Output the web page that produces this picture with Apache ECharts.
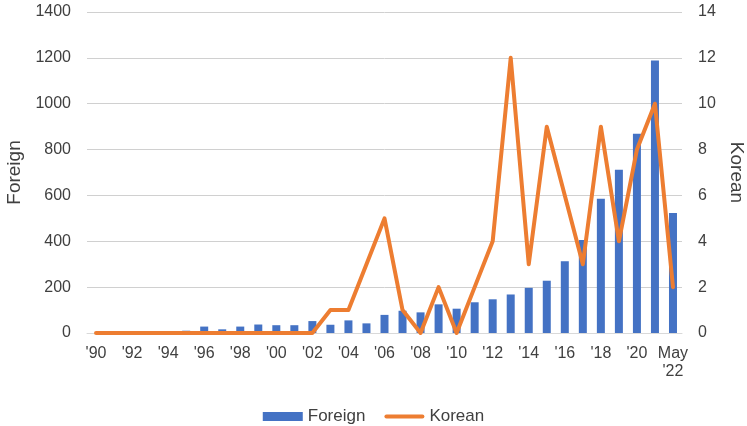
<!DOCTYPE html>
<html>
<head>
<meta charset="utf-8">
<script src="https://cdn.jsdelivr.net/npm/echarts@6/dist/echarts.min.js"></script>
<style>html,body{margin:0;padding:0;background:#fff}#c{width:747px;height:426px}</style>
</head>
<body>
<div id="c"></div>
<script>
const categories = ["'90","'91","'92","'93","'94","'95","'96","'97","'98","'99","'00","'01","'02","'03","'04","'05","'06","'07","'08","'09","'10","'11","'12","'13","'14","'15","'16","'17","'18","'19","'20","'21","May\n'22"];
const foreign = [0,0,0,0,0,10,28,16,28,37,34,34,52,36,55,42,79,97,90,125,106,134,147,168,197,228,313,406,585,712,869,1188,523];
const korean = [0,0,0,0,0,0,0,0,0,0,0,0,0,1,1,3,5,1,0,2,0,2,4,12,3,9,6,3,9,4,8,10,2];
const leftTicks = {min:0, max:1400, interval:200};
const rightTicks = {min:0, max:14, interval:2};

const font = 'Liberation Sans, Arial, sans-serif';
const chart = echarts.init(document.getElementById('c'));
chart.setOption({
  animation:false,
  textStyle:{fontFamily:font},
  grid:{left:87,right:65,top:12,bottom:93, containLabel:false, outerBoundsMode:'none'},
  legend:{
    top:403, left:'center', itemWidth:40, itemHeight:9, itemGap:19,
    textStyle:{fontSize:17, color:'#404040', fontFamily:font},
    data:[{name:'Foreign', icon:'rect'},
          {name:'Korean', icon:'path://M2,0 L38,0 A2,2 0 0 1 38,4 L2,4 A2,2 0 0 1 2,0 Z'}]
  },
  xAxis:{
    type:'category', data:categories,
    axisTick:{show:false},
    axisLine:{lineStyle:{color:'#d9d9d9', width:1}},
    axisLabel:{interval:1, fontSize:16, color:'#404040', margin:12, lineHeight:18, fontFamily:font}
  },
  yAxis:[
    {type:'value', min:leftTicks.min, max:leftTicks.max, interval:leftTicks.interval,
     name:'Foreign', nameLocation:'middle', nameGap:58,
     nameTextStyle:{fontSize:19, color:'#404040', fontFamily:font},
     axisLabel:{fontSize:16, color:'#404040', margin:16, fontFamily:font, formatter:function(v){return String(v);}},
     splitLine:{lineStyle:{color:'#d0d0d0', width:1}},
     axisLine:{show:false}, axisTick:{show:false}},
    {type:'value', min:rightTicks.min, max:rightTicks.max, interval:rightTicks.interval,
     name:'Korean', nameLocation:'middle', nameGap:43, nameRotate:-90,
     nameTextStyle:{fontSize:19, color:'#404040', fontFamily:font},
     axisLabel:{fontSize:16, color:'#404040', margin:16, fontFamily:font, formatter:function(v){return String(v);}},
     splitLine:{show:false},
     axisLine:{show:false}, axisTick:{show:false}}
  ],
  series:[
    {name:'Foreign', type:'bar', data:foreign, yAxisIndex:0, barWidth:8,
     itemStyle:{color:'#4472C4'}},
    {name:'Korean', type:'line', data:korean, yAxisIndex:1, symbol:'none',
     lineStyle:{color:'#ED7D31', width:4, cap:'round', join:'round'},
     itemStyle:{color:'#ED7D31'}}
  ]
});
</script>
</body>
</html>
